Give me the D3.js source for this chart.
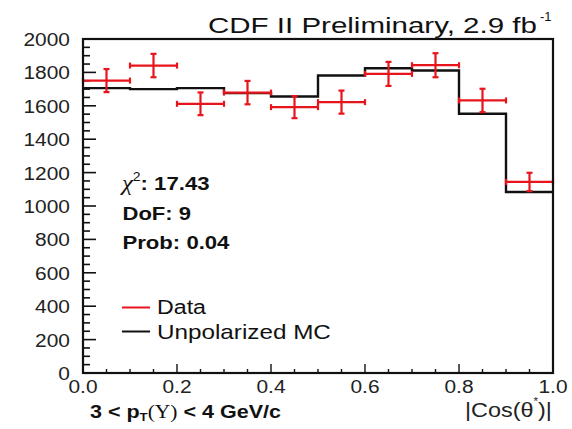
<!DOCTYPE html>
<html><head><meta charset="utf-8">
<script src="https://cdn.jsdelivr.net/npm/d3@7"></script>
<style>body{margin:0;background:#fff}svg{display:block}</style>
</head><body>
<svg id="c" width="572" height="429"></svg>
<script>
// ---- data ----
const binLo   = [0.0,0.1,0.2,0.3,0.4,0.5,0.6,0.7,0.8,0.9];
const binHi   = [0.1,0.2,0.3,0.4,0.5,0.6,0.7,0.8,0.9,1.0];
const dataVal = [1751,1841,1612,1679,1592,1622,1791,1843,1632,1144];
const dataErr = [69,70,68,70,66,69,72,72,70,55];
const mcVal   = [1706,1700,1706,1676,1656,1781,1825,1811,1552,1084];
const yTicks  = [0,200,400,600,800,1000,1200,1400,1600,1800,2000];
const xTicks  = [0.0,0.2,0.4,0.6,0.8,1.0];
const statLabels = ["DoF: 9","Prob: 0.04"];
const chi2Text = ": 17.43";
const legendItems = [{label:"Data",color:"#e8141c"},{label:"Unpolarized MC",color:"#111"}];

const svg = d3.select("#c");
const L=83,R=553,T=39,B=373;
const x = d3.scaleLinear().domain([0,1]).range([L,R]);
const y = d3.scaleLinear().domain([0,2000]).range([B,T]);
const FONT = "'Liberation Sans',Arial,Helvetica,sans-serif";

function mk(size,opts={}){
  return svg.append("text")
    .attr("font-family",opts.family||FONT).attr("font-size",size)
    .attr("font-weight",opts.weight||"normal")
    .attr("fill",opts.fill||"#111");
}
// fit a text horizontally between x0 and x1, baseline yb
function fit(t,x0,x1,yb){
  const w = t.node().getBBox().width;
  const sx = (x1-x0)/w;
  t.attr("transform",`translate(${x0},${yb}) scale(${sx},1)`);
  return t;
}
function stext(px,py,str,size,opts={}){
  return mk(size,opts)
    .attr("transform",`translate(${px},${py}) scale(${opts.sx||1.1},1)`)
    .attr("text-anchor",opts.anchor||"start").text(str);
}

// ticks
const yMinor = d3.range(0,2001,50);
svg.append("g").selectAll("line").data(yMinor).join("line")
  .attr("x1",L).attr("x2",d=>L+(d%200===0?13:7))
  .attr("y1",d=>y(d)).attr("y2",d=>y(d))
  .attr("stroke","#111").attr("stroke-width",1.6);
const xMinor = d3.range(0,21).map(i=>i*0.05);
svg.append("g").selectAll("line").data(xMinor).join("line")
  .attr("x1",d=>x(d)).attr("x2",d=>x(d))
  .attr("y1",B).attr("y2",(d,i)=>B-(i%4===0?9:4))
  .attr("stroke","#111").attr("stroke-width",1.4);

// tick labels
yTicks.forEach(v=>stext(70,y(v)+7,String(v),19,{anchor:"end",fill:"#222"}));
xTicks.forEach(v=>stext(x(v),393,v.toFixed(1),19,{anchor:"middle",fill:"#222"}));

// MC histogram
const pts=[];
binLo.forEach((lo,i)=>{pts.push([x(lo),y(mcVal[i])]);pts.push([x(binHi[i]),y(mcVal[i])]);});
svg.append("path").attr("d",d3.line()(pts)).attr("fill","none")
  .attr("stroke","#111").attr("stroke-width",2.4);

// Data error bars
const red="#e8141c";
const g = svg.append("g").attr("stroke",red).attr("stroke-width",2.2);
binLo.forEach((lo,i)=>{
  const cx=x((lo+binHi[i])/2), cy=y(dataVal[i]);
  const x1=x(lo), x2=x(binHi[i]);
  const yt=y(dataVal[i]+dataErr[i]), yb=y(dataVal[i]-dataErr[i]);
  g.append("line").attr("x1",x1).attr("x2",x2).attr("y1",cy).attr("y2",cy);
  g.append("line").attr("x1",x1).attr("x2",x1).attr("y1",cy-3).attr("y2",cy+3);
  g.append("line").attr("x1",x2).attr("x2",x2).attr("y1",cy-3).attr("y2",cy+3);
  g.append("line").attr("x1",cx).attr("x2",cx).attr("y1",yt).attr("y2",yb);
  g.append("line").attr("x1",cx-3).attr("x2",cx+3).attr("y1",yt).attr("y2",yt);
  g.append("line").attr("x1",cx-3).attr("x2",cx+3).attr("y1",yb).attr("y2",yb);
});

// frame
svg.append("rect").attr("x",L).attr("y",T).attr("width",R-L).attr("height",B-T)
  .attr("fill","none").attr("stroke","#111").attr("stroke-width",2.2);

// title
fit(mk(22).text("CDF II Preliminary, 2.9 fb"),208,537,33);
stext(540,21,"-1",13,{sx:1.0});

// stats
const chi = mk(19,{weight:"bold"});
chi.append("tspan").attr("font-family","'Liberation Serif','DejaVu Serif',serif")
  .attr("font-style","italic").attr("font-weight","normal").attr("font-size",21).text("χ");
chi.append("tspan").attr("font-size",12).attr("font-weight","normal").attr("dy",-9).text("2");
chi.append("tspan").attr("dy",9).text(chi2Text);
fit(chi,122,212,190);
fit(mk(19,{weight:"bold"}).text(statLabels[0]),122.5,191,220);
fit(mk(19,{weight:"bold"}).text(statLabels[1]),122.5,230,248.5);

// legend
const legX = [[157,207],[157,331]];
legendItems.forEach((d,i)=>{
  const ly=[307.5,331.5][i];
  svg.append("line").attr("x1",122).attr("x2",150).attr("y1",ly).attr("y2",ly)
    .attr("stroke",d.color).attr("stroke-width",2);
  fit(mk(20).text(d.label),legX[i][0],legX[i][1],[313.5,339][i]);
});

// bottom labels
const bl = mk(18,{weight:"bold"});
bl.append("tspan").text("3 < p");
bl.append("tspan").attr("font-size",11).attr("dy",3).text("T");
bl.append("tspan").attr("dy",-3).attr("font-family","'Liberation Serif',serif").attr("font-weight","normal").text("(Υ)");
bl.append("tspan").text(" < 4 GeV/c");
fit(bl,90,281,418);

const xl = mk(20,{fill:"#222"});
xl.append("tspan").text("|Cos(θ");
xl.append("tspan").attr("font-size",10).attr("dy",-12).text("*");
xl.append("tspan").attr("dy",12).text(")|");
fit(xl,465,552,417);
</script>
</body></html>
